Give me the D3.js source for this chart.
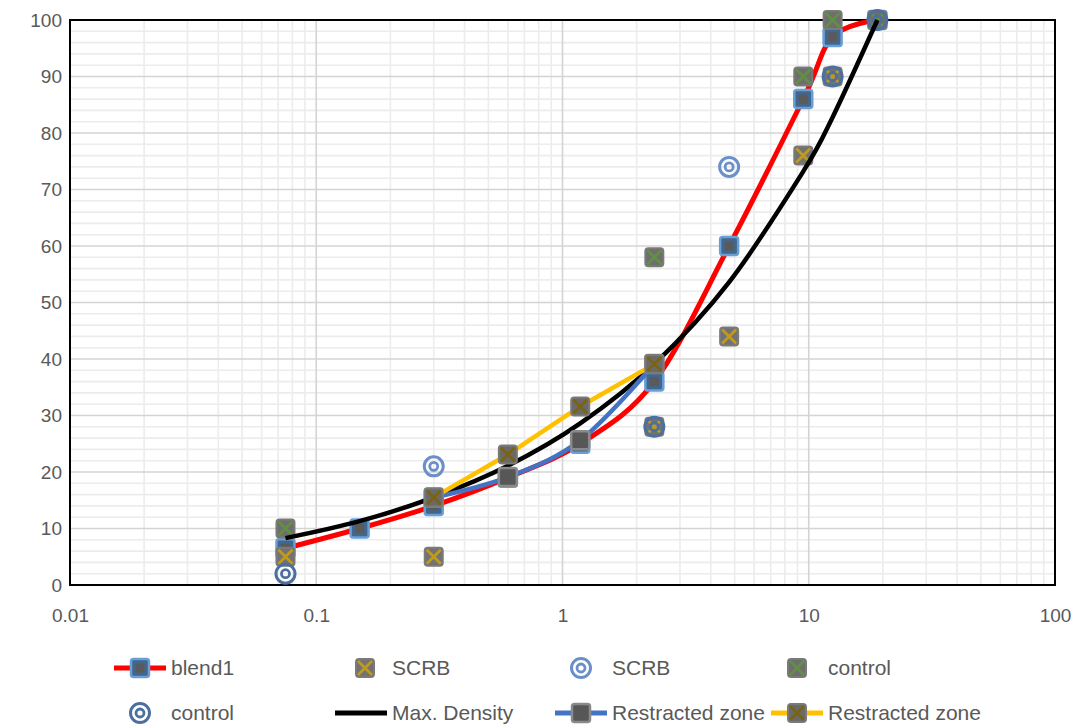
<!DOCTYPE html>
<html>
<head>
<meta charset="utf-8">
<script src="https://cdn.jsdelivr.net/npm/d3@7/dist/d3.min.js"></script>
<style>
  html, body { margin: 0; padding: 0; background: #fff; }
  svg { display: block; font-family: "Liberation Sans", Arial, sans-serif; }
</style>
</head>
<body>
<svg id="chart" width="1077" height="724"></svg>
<script>
// Sieve sizes (mm) and percent passing
const sieves = [0.075, 0.15, 0.3, 0.6, 1.18, 2.36, 4.75, 9.5, 12.5, 19];
const blend1 = [6.5, 10, 14, 19, 25, 36, 60, 86, 97, 100];
const maxDensity = [8.3, 11.3, 15.5, 21.1, 28.6, 39.1, 53.6, 73.2, 82.8, 100];

const scrbCrossSizes = [0.075, 0.3, 2.36, 4.75, 9.5, 12.5];
const scrbCrossValues = [5, 5, 28, 44, 76, 90];
const scrbRingSizes = [0.3, 4.75];
const scrbRingValues = [21, 74];

const controlCrossSizes = [0.075, 2.36, 9.5, 12.5, 19];
const controlCrossValues = [10, 58, 90, 100, 100];
const controlRingSizes = [0.075, 2.36, 12.5, 19];
const controlRingValues = [2, 28, 90, 100];

const zoneSizes = [0.3, 0.6, 1.18, 2.36];
const zoneLower = [15.5, 19.1, 25.6, 39.1];
const zoneUpper = [15.5, 23.1, 31.6, 39.1];

const xTicks = [0.01, 0.1, 1, 10, 100];
const yTicks = [0, 10, 20, 30, 40, 50, 60, 70, 80, 90, 100];

const svg = d3.select("#chart");
const L = 70, R = 1055, T = 20, B = 585;

const x = d3.scaleLog().domain([0.01, 100]).range([L, R]);
const y = d3.scaleLinear().domain([0, 100]).range([B, T]);

// gridlines
const grid = svg.append("g");
const minorX = [];
[0.01, 0.1, 1, 10].forEach(d => { for (let k = 2; k <= 9; k++) minorX.push(d * k); });
grid.selectAll(".mx").data(minorX).join("line")
  .attr("x1", d => x(d)).attr("x2", d => x(d)).attr("y1", T).attr("y2", B)
  .attr("stroke", "#ececec").attr("stroke-width", 1.6);
const minorY = d3.range(0, 101, 2).filter(v => v % 10 !== 0);
grid.selectAll(".my").data(minorY).join("line")
  .attr("x1", L).attr("x2", R).attr("y1", d => y(d)).attr("y2", d => y(d))
  .attr("stroke", "#ececec").attr("stroke-width", 1.6);
grid.selectAll(".Mx").data(xTicks).join("line")
  .attr("x1", d => x(d)).attr("x2", d => x(d)).attr("y1", T).attr("y2", B)
  .attr("stroke", "#d4d4d4").attr("stroke-width", 1.6);
grid.selectAll(".My").data(yTicks).join("line")
  .attr("x1", L).attr("x2", R).attr("y1", d => y(d)).attr("y2", d => y(d))
  .attr("stroke", "#d4d4d4").attr("stroke-width", 1.6);

// plot border
svg.append("rect").attr("x", L).attr("y", T).attr("width", R - L).attr("height", B - T)
  .attr("fill", "none").attr("stroke", "#000").attr("stroke-width", 2);

// axes
const xAxis = d3.axisBottom(x).tickValues(xTicks).tickFormat(d => String(d)).tickSize(0).tickPadding(24);
const gx = svg.append("g").attr("transform", `translate(0,${B})`).call(xAxis);
gx.select(".domain").remove();
gx.selectAll("text").attr("font-size", 19).attr("fill", "#595959").attr("font-family", "Liberation Sans, Arial, sans-serif");

const yAxis = d3.axisLeft(y).tickValues(yTicks).tickSize(0).tickPadding(8);
const gy = svg.append("g").attr("transform", `translate(${L},0)`).call(yAxis);
gy.select(".domain").remove();
gy.selectAll("text").attr("font-size", 19).attr("fill", "#595959").attr("font-family", "Liberation Sans, Arial, sans-serif");

// marker painters
function squareMarker(g, cx, cy) {
  g.append("rect").attr("x", cx - 9).attr("y", cy - 9).attr("width", 18).attr("height", 18)
    .attr("rx", 2.5).attr("fill", "#41678f").attr("stroke", "#6a9fd6").attr("stroke-width", 2.5);
  g.append("rect").attr("x", cx - 4.5).attr("y", cy - 4.5).attr("width", 9).attr("height", 9)
    .attr("fill", "#5a5a5a");
}
function crossMarker(g, cx, cy, fill, crossColor) {
  g.append("rect").attr("x", cx - 9).attr("y", cy - 9).attr("width", 18).attr("height", 18)
    .attr("rx", 3).attr("fill", fill).attr("stroke", "#7a7a7a").attr("stroke-width", 2);
  g.append("path").attr("d", `M${cx - 7},${cy - 7}L${cx + 7},${cy + 7}M${cx + 7},${cy - 7}L${cx - 7},${cy + 7}`)
    .attr("stroke", crossColor).attr("stroke-width", 2.8).attr("fill", "none");
}
function ringMarker(g, cx, cy, color) {
  g.append("circle").attr("cx", cx).attr("cy", cy).attr("r", 9.5)
    .attr("fill", "none").attr("stroke", color).attr("stroke-width", 3);
  g.append("circle").attr("cx", cx).attr("cy", cy).attr("r", 4)
    .attr("fill", "none").attr("stroke", color).attr("stroke-width", 2.8);
}
function zoneSquare(g, cx, cy) {
  g.append("rect").attr("x", cx - 9).attr("y", cy - 9).attr("width", 18).attr("height", 18)
    .attr("rx", 2.5).attr("fill", "#575757").attr("stroke", "#8a8a8a").attr("stroke-width", 2.5);
}

const smooth = d3.line().x(d => x(d[0])).y(d => y(d[1])).curve(d3.curveCatmullRom.alpha(0));
const straight = d3.line().x(d => x(d[0])).y(d => y(d[1]));
const zip = (a, b) => a.map((v, i) => [v, b[i]]);

const plot = svg.append("g");

// blend1
plot.append("path").attr("d", smooth(zip(sieves, blend1)))
  .attr("fill", "none").attr("stroke", "#ff0000").attr("stroke-width", 5);
const g1 = plot.append("g");
zip(sieves, blend1).forEach(d => squareMarker(g1, x(d[0]), y(d[1])));

// SCRB limits
const g2 = plot.append("g");
zip(scrbCrossSizes, scrbCrossValues).forEach(d => crossMarker(g2, x(d[0]), y(d[1]), "#727272", "#bf9a1e"));
const g3 = plot.append("g");
zip(scrbRingSizes, scrbRingValues).forEach(d => ringMarker(g3, x(d[0]), y(d[1]), "#6b8fcb"));

// control points
const g4 = plot.append("g");
zip(controlCrossSizes, controlCrossValues).forEach(d => crossMarker(g4, x(d[0]), y(d[1]), "#6e6e6e", "#638f45"));
const g5 = plot.append("g");
zip(controlRingSizes, controlRingValues).forEach(d => ringMarker(g5, x(d[0]), y(d[1]), "#4b6f9f"));

// maximum density line
plot.append("path").attr("d", smooth(zip(sieves, maxDensity)))
  .attr("fill", "none").attr("stroke", "#000").attr("stroke-width", 4.5);

// restricted zone
plot.append("path").attr("d", smooth(zip(zoneSizes, zoneLower)))
  .attr("fill", "none").attr("stroke", "#4472c4").attr("stroke-width", 4.5);
const g6 = plot.append("g");
zip(zoneSizes, zoneLower).forEach(d => zoneSquare(g6, x(d[0]), y(d[1])));
plot.append("path").attr("d", straight(zip(zoneSizes, zoneUpper)))
  .attr("fill", "none").attr("stroke", "#ffc000").attr("stroke-width", 4.5);
const g7 = plot.append("g");
zip(zoneSizes, zoneUpper).forEach(d => crossMarker(g7, x(d[0]), y(d[1]), "#6a6a6a", "#7a6414"));

// legend
const legendItems = [
  { label: "blend1", line: "#ff0000", marker: "square" },
  { label: "SCRB", line: null, marker: "crossGold" },
  { label: "SCRB", line: null, marker: "ringLight" },
  { label: "control", line: null, marker: "crossGreen" },
  { label: "control", line: null, marker: "ringDark" },
  { label: "Max. Density", line: "#000000", marker: null },
  { label: "Restracted zone", line: "#4472c4", marker: "zone" },
  { label: "Restracted zone", line: "#ffc000", marker: "crossOlive" }
];
const colX = [140, 361, 581, 797];
const rowY = [668, 713];
const lg = svg.append("g");
legendItems.forEach((it, i) => {
  const cx = colX[i % 4], cy = rowY[Math.floor(i / 4)];
  const g = lg.append("g");
  if (it.line) {
    g.append("line").attr("x1", cx - 26).attr("x2", cx + 26).attr("y1", cy).attr("y2", cy)
      .attr("stroke", it.line).attr("stroke-width", 5);
  }
  if (it.marker === "square") squareMarker(g, cx, cy);
  if (it.marker === "crossGold") crossMarker(g, cx + 4, cy, "#727272", "#bf9a1e");
  if (it.marker === "ringLight") ringMarker(g, cx, cy, "#6b8fcb");
  if (it.marker === "crossGreen") crossMarker(g, cx, cy, "#6e6e6e", "#638f45");
  if (it.marker === "ringDark") ringMarker(g, cx, cy, "#4b6f9f");
  if (it.marker === "zone") zoneSquare(g, cx, cy);
  if (it.marker === "crossOlive") crossMarker(g, cx, cy, "#6a6a6a", "#7a6414");
  g.append("text").attr("x", colX[i % 4] + 31).attr("y", cy).attr("dy", "0.35em")
    .attr("font-size", 21).attr("fill", "#595959").text(it.label);
});
</script>
</body>
</html>
